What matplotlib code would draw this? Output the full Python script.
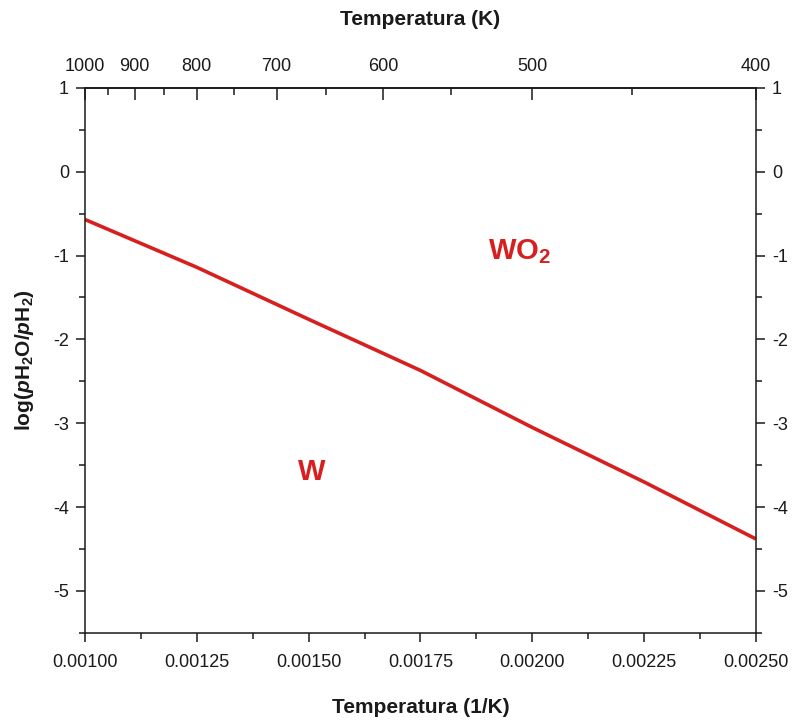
import matplotlib
matplotlib.use("Agg")
import matplotlib.pyplot as plt
from matplotlib.ticker import MultipleLocator, FixedLocator, FormatStrFormatter
import numpy as np

plt.rcParams['font.family'] = ['Liberation Sans', 'DejaVu Sans']
plt.rcParams['axes.unicode_minus'] = False
plt.rcParams['mathtext.fontset'] = 'custom'
plt.rcParams['mathtext.rm'] = 'Liberation Sans'
plt.rcParams['mathtext.it'] = 'Liberation Sans:italic'
plt.rcParams['mathtext.bf'] = 'Liberation Sans:bold'
plt.rcParams['mathtext.bfit'] = 'Liberation Sans:bold:italic'

# Data
inv_T = [0.00100, 0.00125, 0.00150, 0.00175, 0.00200, 0.00225, 0.00250]
log_ratio = [-0.57, -1.14, -1.76, -2.37, -3.05, -3.70, -4.38]

top_major_T = [1000, 900, 800, 700, 600, 500, 400]
top_minor_T = [950, 850, 750, 650, 550, 450]

region_labels = ['W', r'WO$_\mathbf{2}$']
region_x = [0.001507, 0.001972]
region_y = [-3.58, -0.95]

RED = '#d71f1f'
INK = '#1a1a1a'

fig = plt.figure(figsize=(7.94, 7.2), dpi=100)
ax = fig.add_axes([0.107, 0.121, 0.845, 0.757])

ax.plot(inv_T, log_ratio, color=RED, lw=2.6, solid_capstyle='butt',
        solid_joinstyle='round', clip_on=True)

ax.set_xlim(0.0010, 0.0025)
ax.set_ylim(-5.5, 1.0)

ax.xaxis.set_major_locator(MultipleLocator(0.00025))
ax.xaxis.set_minor_locator(MultipleLocator(0.000125))
ax.xaxis.set_major_formatter(FormatStrFormatter('%.5f'))
ax.yaxis.set_major_locator(MultipleLocator(1))
ax.yaxis.set_minor_locator(MultipleLocator(0.5))

for s in ax.spines.values():
    s.set_linewidth(1.1)
    s.set_color(INK)

ax.tick_params(axis='both', which='major', direction='out', length=6.5, width=1.1,
               labelsize=13, color=INK, labelcolor=INK, pad=5)
ax.tick_params(axis='both', which='minor', direction='out', length=4, width=1.1, color=INK)
ax.tick_params(axis='x', which='major', pad=9)
ax.tick_params(axis='y', which='both', left=True, right=True, labelleft=True, labelright=True)
ax.tick_params(axis='x', which='both', top=False)

ax.set_xlabel('Temperatura (1/K)', fontsize=15, fontweight='bold', labelpad=19, color=INK)
ax.set_ylabel(r'$\mathbf{log(}\mathbfit{p}\mathbf{H_2O/}\mathbfit{p}\mathbf{H_2)}$',
              fontsize=15, labelpad=12, color=INK)

def inv(x):
    x = np.asarray(x, dtype=float)
    with np.errstate(divide='ignore'):
        return 1.0 / x

sec = ax.secondary_xaxis('top', functions=(inv, inv))
sec.xaxis.set_major_locator(FixedLocator(top_major_T))
sec.xaxis.set_minor_locator(FixedLocator(top_minor_T))
sec.xaxis.set_major_formatter(FormatStrFormatter('%d'))
sec.tick_params(which='major', direction='in', length=8.5, width=1.1, labelsize=13,
                color=INK, labelcolor=INK, pad=9)
sec.tick_params(which='minor', direction='in', length=5, width=1.1, color=INK)
sec.spines['top'].set_linewidth(1.1)
sec.set_xlabel('Temperatura (K)', fontsize=15, fontweight='bold', labelpad=24, color=INK)

for lab, x, y in zip(region_labels, region_x, region_y):
    ax.text(x, y, lab, color=RED, fontsize=21, fontweight='bold', ha='center', va='center')

fig.savefig('out.png', dpi=100)
